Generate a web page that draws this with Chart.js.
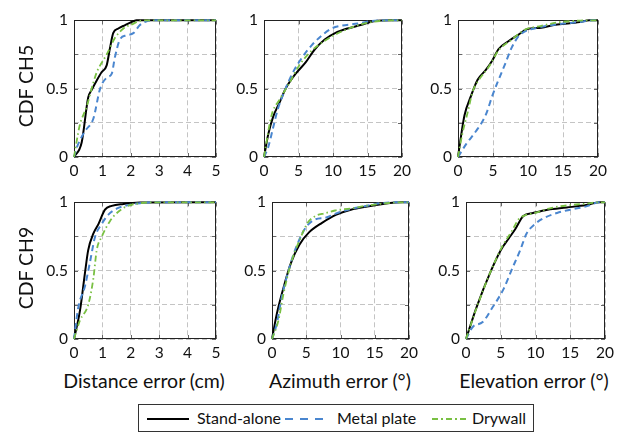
<!DOCTYPE html>
<html>
<head>
<meta charset="utf-8">
<script src="https://cdn.jsdelivr.net/npm/chart.js@4/dist/chart.umd.min.js"></script>
<style>
  body { margin: 0; background: #fff; width: 632px; height: 434px; position: relative; overflow: hidden;
         font-family: Lato, "Open Sans", sans-serif; color: #111; }
  canvas { position: absolute; }
  .ytitle { position: absolute; width: 120px; height: 22px; line-height: 22px; text-align: center;
            font-size: 19.5px; transform: rotate(-90deg); white-space: nowrap; }
  .xtitle { position: absolute; width: 200px; height: 22px; line-height: 22px; text-align: center;
            font-size: 19.5px; white-space: nowrap; }
  #legend { position: absolute; left: 138px; top: 404px; width: 396px; height: 28px;
            border: 1px solid #333; box-sizing: border-box; font-size: 16px; }
  #legend span { position: absolute; top: 3px; line-height: 20px; white-space: nowrap; }
  #legend svg { position: absolute; top: 12px; }
</style>
</head>
<body>

<!-- panels -->
<canvas id="c1" width="192" height="180" style="left:34px;top:5px"></canvas>
<canvas id="c2" width="192" height="180" style="left:224px;top:5px"></canvas>
<canvas id="c3" width="194" height="180" style="left:418px;top:5px"></canvas>
<canvas id="c4" width="192" height="180" style="left:34px;top:187px"></canvas>
<canvas id="c5" width="191" height="180" style="left:232px;top:187px"></canvas>
<canvas id="c6" width="193" height="180" style="left:426px;top:187px"></canvas>

<!-- axis titles -->
<div class="ytitle" style="left:-34px;top:75px">CDF CH5</div>
<div class="ytitle" style="left:-34px;top:257px">CDF CH9</div>
<div class="xtitle" style="left:44px;top:370px">Distance error (cm)</div>
<div class="xtitle" style="left:240px;top:370px">Azimuth error (°)</div>
<div class="xtitle" style="left:434px;top:370px">Elevation error (°)</div>

<!-- legend -->
<div id="legend">
  <svg width="42" height="4" style="left:8px"><line x1="0" y1="2" x2="42" y2="2" stroke="#000" stroke-width="2"/></svg>
  <span style="left:58px">Stand-alone</span>
  <svg width="40" height="4" style="left:146px"><line x1="0" y1="2" x2="40" y2="2" stroke="#4a86cf" stroke-width="2" stroke-dasharray="8 7"/></svg>
  <span style="left:198px">Metal plate</span>
  <svg width="37" height="4" style="left:293px"><line x1="0" y1="2" x2="37" y2="2" stroke="#79c043" stroke-width="2" stroke-dasharray="6 3 2 3"/></svg>
  <span style="left:333px">Drywall</span>
</div>

<script>
  // [x, y] points, CH5 row
  const ch5DistStand = [[0,0],[0.27,0.106],[0.5,0.435],[0.62,0.49],[0.8,0.56],[0.97,0.62],[1.15,0.67],[1.27,0.8],[1.38,0.906],[1.56,0.94],[1.8,0.965],[2.09,0.993],[2.2,1],[5,1]];
  const ch5DistMetal = [[0,0],[0.1,0.07],[0.39,0.19],[0.68,0.28],[0.92,0.5],[1.15,0.58],[1.33,0.61],[1.44,0.73],[1.62,0.86],[1.85,0.89],[2.09,0.906],[2.32,0.965],[2.56,0.993],[2.9,1],[5,1]];
  const ch5DistDry   = [[0,0],[0.2,0.23],[0.45,0.37],[0.62,0.5],[0.8,0.62],[0.92,0.67],[1.15,0.75],[1.44,0.87],[1.74,0.94],[2.1,0.976],[2.3,0.995],[2.68,1],[5,1]];

  const ch5AzStand = [[0,0],[0.61,0.165],[1.32,0.294],[2.26,0.4],[3.2,0.506],[4.6,0.61],[6,0.69],[7.4,0.79],[8.8,0.86],[10.3,0.906],[12.1,0.94],[14,0.965],[15.9,0.993],[18.7,1],[20,1]];
  const ch5AzMetal = [[0,0],[0.6,0.07],[1.3,0.21],[2,0.35],[2.96,0.48],[4.1,0.61],[5.55,0.73],[6.96,0.82],[8.4,0.89],[9.8,0.94],[11.2,0.96],[13.6,0.976],[15.4,0.993],[18.3,1],[20,1]];
  const ch5AzDry   = [[0,0],[1.1,0.306],[2.26,0.42],[3.67,0.54],[5.1,0.67],[6.96,0.78],[8.8,0.85],[10.3,0.895],[12.6,0.946],[14.5,0.976],[16.8,0.995],[18.7,1],[20,1]];

  const ch5ElStand = [[0,0],[0.33,0.118],[0.93,0.306],[1.86,0.447],[2.8,0.565],[3.95,0.635],[4.9,0.706],[5.8,0.79],[7.2,0.847],[8.6,0.894],[9.9,0.936],[11.9,0.946],[13.7,0.965],[15.6,0.976],[17.4,0.988],[18.8,1],[20,1]];
  const ch5ElMetal = [[0,0],[1.16,0.094],[2.56,0.188],[3.95,0.306],[4.9,0.447],[5.8,0.565],[6.74,0.682],[7.67,0.8],[8.6,0.88],[9.5,0.918],[10.9,0.94],[12.8,0.96],[15.1,0.976],[17.4,0.988],[19.3,1],[20,1]];
  const ch5ElDry   = [[0,0],[0.6,0.165],[1.4,0.33],[2.1,0.48],[3,0.565],[4.4,0.66],[5.8,0.78],[7.7,0.86],[9.5,0.93],[11.9,0.96],[14.2,0.984],[16.5,0.995],[18.8,1],[20,1]];

  // CH9 row
  const ch9DistStand = [[0,0],[0.21,0.207],[0.39,0.49],[0.5,0.65],[0.68,0.77],[0.86,0.84],[1.09,0.946],[1.33,0.974],[1.74,0.988],[2.32,0.998],[5,1]];
  const ch9DistMetal = [[0,0],[0.15,0.23],[0.39,0.39],[0.56,0.56],[0.74,0.746],[0.97,0.84],[1.21,0.91],[1.5,0.953],[1.85,0.977],[2.32,0.993],[2.8,1],[5,1]];
  const ch9DistDry   = [[0,0],[0.21,0.136],[0.5,0.25],[0.68,0.44],[0.8,0.65],[0.97,0.746],[1.27,0.864],[1.5,0.92],[1.85,0.97],[2.32,0.993],[2.8,1],[5,1]];

  const ch9AzStand = [[0,0],[0.7,0.183],[1.65,0.37],[2.8,0.56],[4,0.69],[5.4,0.78],[7.3,0.85],[9.4,0.91],[11.5,0.946],[13.9,0.97],[16.2,0.988],[19.1,1],[20,1]];
  const ch9AzMetal = [[0,0],[0.7,0.113],[1.4,0.3],[2.6,0.535],[3.76,0.7],[4.94,0.817],[6.35,0.876],[7.76,0.887],[9.2,0.915],[11.1,0.946],[13.4,0.97],[15.8,0.993],[18.6,1],[20,1]];
  const ch9AzDry   = [[0,0],[0.94,0.136],[1.65,0.324],[2.8,0.56],[4,0.72],[5.2,0.85],[6.35,0.9],[7.76,0.92],[9.2,0.94],[11.5,0.955],[13.9,0.976],[16.7,0.993],[19.1,1],[20,1]];

  const ch9ElStand = [[0,0],[1.5,0.23],[3.6,0.5],[5,0.65],[6.15,0.735],[7.1,0.805],[8.25,0.9],[9.65,0.922],[11.75,0.946],[14.5,0.962],[17.3,0.98],[19.2,1],[20,1]];
  const ch9ElMetal = [[0,0],[1,0.09],[2.4,0.124],[3.8,0.23],[5.45,0.37],[6.6,0.51],[7.8,0.65],[8.7,0.77],[9.9,0.84],[11.3,0.887],[13.1,0.922],[15,0.946],[17.3,0.97],[19.2,1],[20,1]];
  const ch9ElDry   = [[0,0],[1.5,0.225],[3.6,0.5],[5.2,0.676],[6.6,0.79],[7.55,0.875],[8.5,0.904],[9.9,0.922],[12.2,0.958],[15,0.98],[17.3,0.99],[19,1],[20,1]];

  const seriesNames = ["Stand-alone", "Metal plate", "Drywall"];
  const yTickLabels = { 0: "0", 0.5: "0.5", 1: "1" };

  const tickFont = { family: "Lato, 'Open Sans', sans-serif", size: 15.5 };

  // cadre + petites graduations internes
  const frame = {
    id: "frame",
    beforeDatasetsDraw(chart) {
      const { ctx, chartArea: a, scales } = chart;
      ctx.save();
      ctx.strokeStyle = "#666";
      ctx.lineWidth = 1;
      ctx.beginPath();
      scales.x.ticks.forEach((t) => {
        const px = Math.round(scales.x.getPixelForValue(t.value)) + 0.5;
        ctx.moveTo(px, a.bottom); ctx.lineTo(px, a.bottom - 4);
        ctx.moveTo(px, a.top); ctx.lineTo(px, a.top + 4);
      });
      scales.y.ticks.forEach((t) => {
        const py = Math.round(scales.y.getPixelForValue(t.value)) + 0.5;
        ctx.moveTo(a.left, py); ctx.lineTo(a.left + 4, py);
        ctx.moveTo(a.right, py); ctx.lineTo(a.right - 4, py);
      });
      ctx.stroke();
      ctx.strokeStyle = "#222";
      ctx.strokeRect(Math.round(a.left) + 0.5, Math.round(a.top) + 0.5,
                     Math.round(a.right - a.left) - 1, Math.round(a.bottom - a.top) - 1);
      ctx.restore();
    },
  };

  function toXY(pts) {
    return pts.map(([x, y]) => ({ x, y }));
  }

  function makeChart(id, stand, metal, dry, xMax, xStep) {
    return new Chart(document.getElementById(id), {
      type: "line",
      data: {
        datasets: [
          { label: seriesNames[0], data: toXY(stand), borderColor: "#000", borderWidth: 2 },
          { label: seriesNames[1], data: toXY(metal), borderColor: "#4a86cf", borderWidth: 2, borderDash: [6, 4] },
          { label: seriesNames[2], data: toXY(dry), borderColor: "#79c043", borderWidth: 1.8, borderDash: [6, 3, 1.5, 3] },
        ].reverse(),
      },
      options: {
        responsive: false,
        animation: false,
        layout: { padding: { top: 10, right: 10, left: 0, bottom: 0 } },
        plugins: { legend: { display: false }, tooltip: { enabled: false } },
        elements: { point: { radius: 0 }, line: { cubicInterpolationMode: "monotone", fill: false } },
        datasets: { line: { clip: 3 } },
        scales: {
          x: {
            type: "linear", min: 0, max: xMax,
            ticks: { stepSize: xStep, padding: 5, font: tickFont, color: "#111", maxRotation: 0 },
            grid: { color: "#c4c4c4", drawTicks: false },
            border: { display: false, dash: [5, 3] },
            afterFit(s) { s.height = 28; },
          },
          y: {
            min: 0, max: 1,
            ticks: {
              stepSize: 0.25, padding: 6, font: tickFont, color: "#111",
              callback: (v) => (v in yTickLabels ? yTickLabels[v] : ""),
            },
            grid: { color: "#c4c4c4", drawTicks: false },
            border: { display: false, dash: [5, 3] },
            afterFit(s) { s.width = 40; },
          },
        },
      },
      plugins: [frame],
    });
  }

  makeChart("c1", ch5DistStand, ch5DistMetal, ch5DistDry, 5, 1);
  makeChart("c2", ch5AzStand, ch5AzMetal, ch5AzDry, 20, 5);
  makeChart("c3", ch5ElStand, ch5ElMetal, ch5ElDry, 20, 5);
  makeChart("c4", ch9DistStand, ch9DistMetal, ch9DistDry, 5, 1);
  makeChart("c5", ch9AzStand, ch9AzMetal, ch9AzDry, 20, 5);
  makeChart("c6", ch9ElStand, ch9ElMetal, ch9ElDry, 20, 5);
</script>
</body>
</html>
